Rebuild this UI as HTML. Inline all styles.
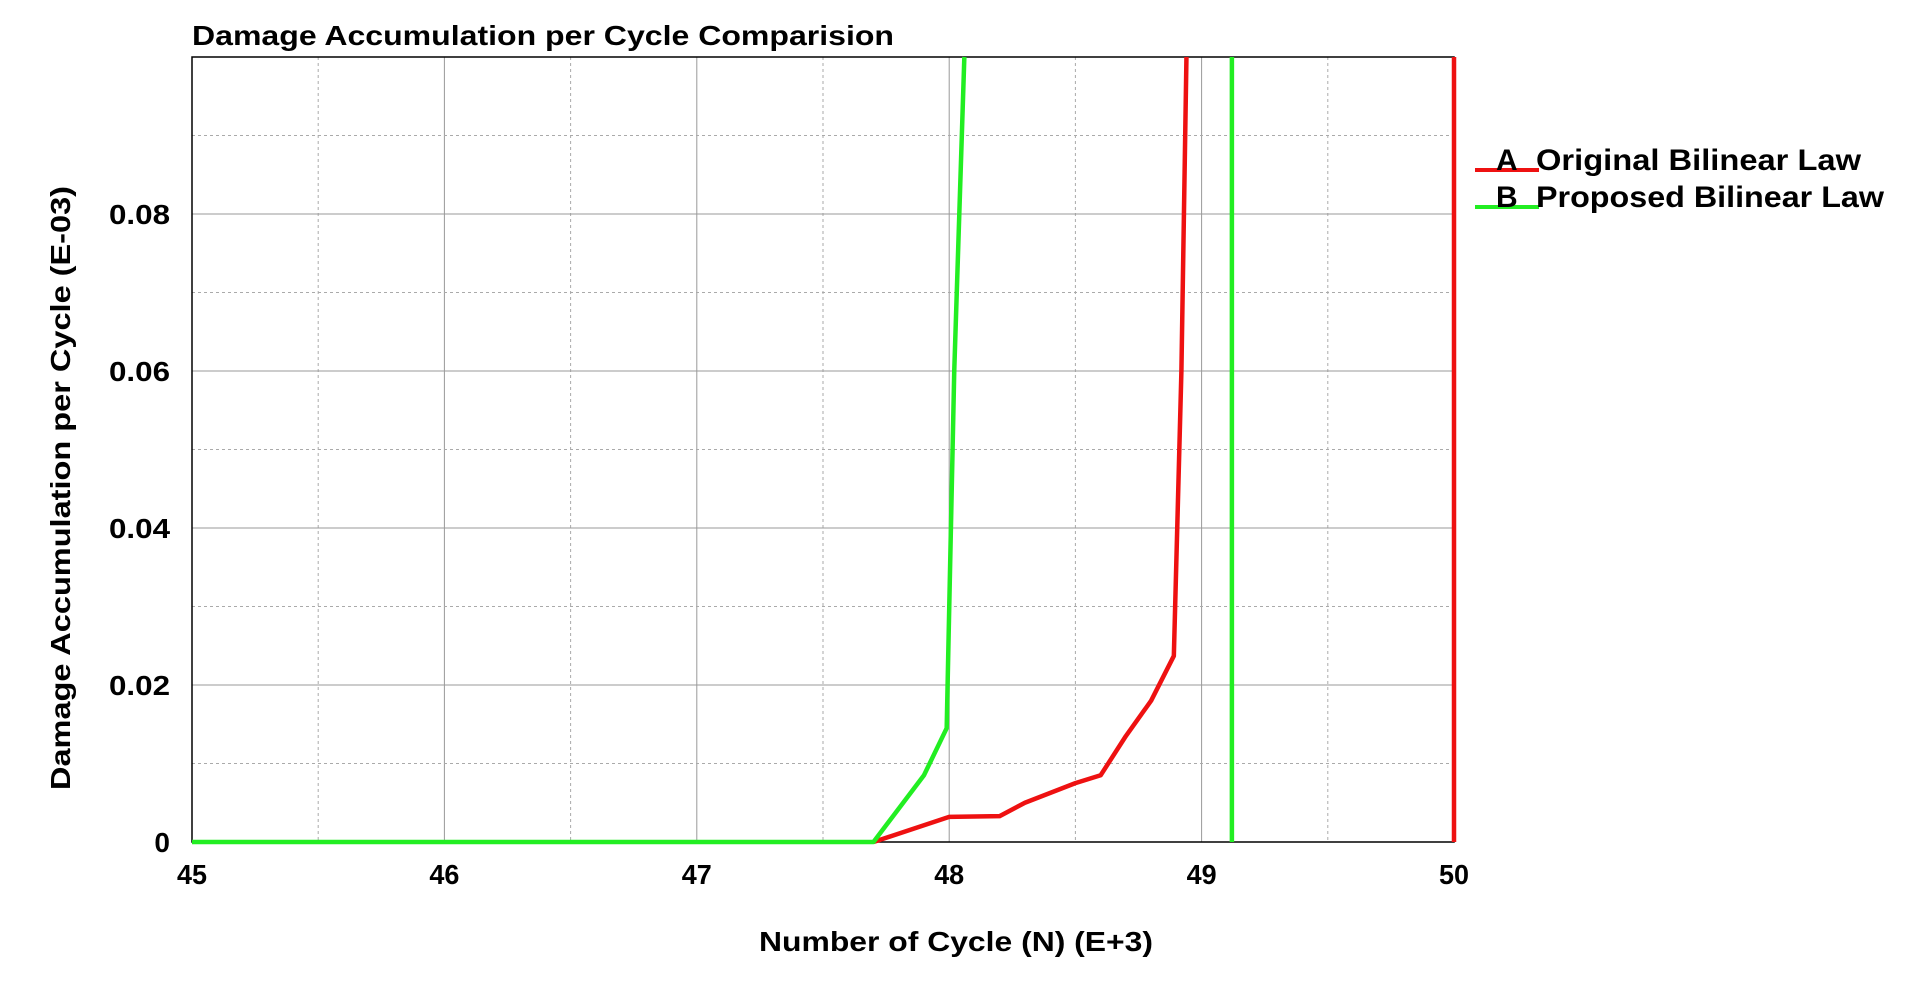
<!DOCTYPE html>
<html><head><meta charset="utf-8"><style>
body{margin:0;background:#fff;font-family:"Liberation Sans",Arial,sans-serif;}
svg text{font-family:"Liberation Sans",Arial,sans-serif;font-weight:bold;fill:#000;}
</style></head><body>
<svg id="chart" width="1914" height="979" xmlns="http://www.w3.org/2000/svg">
<text x="192" y="45" font-size="28" textLength="702" lengthAdjust="spacingAndGlyphs">Damage Accumulation per Cycle Comparision</text>
<g id="grid"></g><g id="series"></g><g id="ticks"></g>
<text x="956" y="951" font-size="28" text-anchor="middle" textLength="394" lengthAdjust="spacingAndGlyphs">Number of Cycle (N) (E+3)</text>
<text transform="translate(70,488) rotate(-90)" font-size="28" text-anchor="middle" textLength="604" lengthAdjust="spacingAndGlyphs">Damage Accumulation per Cycle (E-03)</text>
<g>
<line x1="1475" y1="170" x2="1539" y2="170" stroke="#ee1111" stroke-width="4"/>
<text x="1496" y="170" font-size="30">A</text>
<text x="1536" y="170" font-size="30" textLength="325" lengthAdjust="spacingAndGlyphs">Original Bilinear Law</text>
<line x1="1475" y1="207" x2="1539" y2="207" stroke="#22ee22" stroke-width="4"/>
<text x="1496" y="207" font-size="30">B</text>
<text x="1536" y="207" font-size="30" textLength="348" lengthAdjust="spacingAndGlyphs">Proposed Bilinear Law</text>
</g>
</svg>
<script>
const xTicks=[45,46,47,48,49,50];
const yTicks=[0,0.02,0.04,0.06,0.08];
const redX=[47.7,48.0,48.2,48.3,48.5,48.6,48.7,48.8,48.89,48.92,48.94];
const redY=[0,0.0032,0.0033,0.005,0.0075,0.0085,0.0135,0.018,0.0237,0.06,0.1];
const greenX=[45,47.7,47.9,47.99,48.02,48.06];
const greenY=[0,0,0.0085,0.0145,0.06,0.1];
const redVX=[50];
const greenVX=[49.12];
const L=192,R=1454,T=57,B=842,X0=45,X1=50,Y0=0,Y1=0.1;
const sx=v=>L+(v-X0)/(X1-X0)*(R-L);
const sy=v=>B-(v-Y0)/(Y1-Y0)*(B-T);
const NS="http://www.w3.org/2000/svg";
function mk(t,a,p){const e=document.createElementNS(NS,t);for(const k in a)e.setAttribute(k,a[k]);p.appendChild(e);return e;}
const g=document.getElementById('grid'),s=document.getElementById('series'),tk=document.getElementById('ticks');
for(let v=45;v<=50.001;v+=0.5){const major=Math.abs(v-Math.round(v))<1e-6;
 const l=mk('line',{x1:sx(v),x2:sx(v),y1:T,y2:B,stroke:major?'#999':'#aaa','stroke-width':1,'stroke-dasharray':major?'':'3,3'},g);
 
 }
for(let i=0;i<=10;i++){const v=i*0.01;const major=i%2==0;
 const l=mk('line',{x1:L,x2:R,y1:sy(v),y2:sy(v),stroke:major?'#999':'#aaa','stroke-width':1,'stroke-dasharray':major?'':'3,3'},g);
 
 }
const fr=mk('rect',{x:L,y:T,width:R-L,height:B-T,fill:'none',stroke:'#000','stroke-width':1.5},g);


xTicks.forEach(v=>{const t=mk('text',{x:sx(v),y:B+42,'font-size':28,'text-anchor':'middle',textLength:30,lengthAdjust:'spacingAndGlyphs'},tk);t.textContent=v;
 
 });
yTicks.forEach(v=>{const lab=v===0?'0':v.toFixed(2);const a={x:L-22,y:sy(v)+10,'font-size':28,'text-anchor':'end'};if(v!==0){a.textLength=61;a.lengthAdjust='spacingAndGlyphs';}
 const t=mk('text',a,tk);t.textContent=lab;
 
 });
function poly(xs,ys,c,n){const p=mk('polyline',{points:xs.map((x,i)=>sx(x)+','+sy(ys[i])).join(' '),fill:'none',stroke:c,'stroke-width':4.5,'stroke-linejoin':'round'},s);
 
 }
poly(redX,redY,'#ee1111','series-a-line');
poly(greenX,greenY,'#22ee22','series-b-line');
redVX.forEach(v=>poly([v,v],[0,0.1],'#ee1111','series-a-vertical'));
greenVX.forEach(v=>poly([v,v],[0,0.1],'#22ee22','series-b-vertical'));
</script>
</body></html>
